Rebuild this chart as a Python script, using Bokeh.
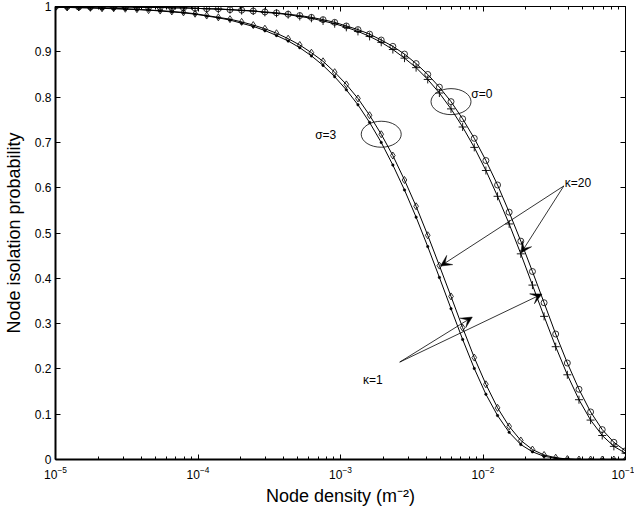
from bokeh.plotting import figure
from bokeh.models import (LinearAxis, LogAxis, Range1d, FixedTicker, LogTicker,
                          Arrow, VeeHead, Label, CustomJSTickFormatter)
from bokeh.embed import file_html
from bokeh.resources import INLINE

# ---------------- data ----------------
density = [1.000e-5, 1.207e-5, 1.456e-5, 1.758e-5, 2.121e-5, 2.560e-5, 3.089e-5, 3.728e-5,
           4.498e-5, 5.429e-5, 6.551e-5, 7.906e-5, 9.541e-5, 1.151e-4, 1.389e-4, 1.677e-4,
           2.024e-4, 2.442e-4, 2.947e-4, 3.556e-4, 4.292e-4, 5.179e-4, 6.251e-4, 7.543e-4,
           9.103e-4, 1.099e-3, 1.326e-3, 1.600e-3, 1.931e-3, 2.330e-3, 2.812e-3, 3.393e-3,
           4.095e-3, 4.942e-3, 5.964e-3, 7.197e-3, 8.685e-3, 1.048e-2, 1.265e-2, 1.526e-2,
           1.842e-2, 2.223e-2, 2.683e-2, 3.237e-2, 3.907e-2, 4.715e-2, 5.690e-2, 6.866e-2,
           8.286e-2, 1.000e-1]

# sigma = 0 (circles / plus)
p_s0_circle = [1.000, 1.000, 0.999, 0.999, 0.999, 0.999, 0.999, 0.999, 0.998, 0.998,
               0.997, 0.997, 0.996, 0.995, 0.995, 0.993, 0.992, 0.990, 0.988, 0.986,
               0.983, 0.980, 0.976, 0.971, 0.965, 0.957, 0.949, 0.939, 0.926, 0.912,
               0.895, 0.874, 0.850, 0.822, 0.790, 0.752, 0.709, 0.660, 0.606, 0.546,
               0.482, 0.415, 0.346, 0.277, 0.213, 0.155, 0.105, 0.066, 0.038, 0.019]
p_s0_plus = [1.000, 0.999, 0.999, 0.999, 0.999, 0.999, 0.999, 0.998, 0.998, 0.998,
             0.997, 0.997, 0.996, 0.995, 0.994, 0.993, 0.991, 0.990, 0.987, 0.985,
             0.982, 0.978, 0.974, 0.968, 0.962, 0.954, 0.945, 0.934, 0.921, 0.905,
             0.886, 0.865, 0.839, 0.809, 0.774, 0.734, 0.689, 0.638, 0.581, 0.520,
             0.454, 0.385, 0.316, 0.249, 0.187, 0.132, 0.087, 0.053, 0.029, 0.014]
# sigma = 3 (diamonds / dots)
p_s3_diamond = [0.998, 0.998, 0.998, 0.997, 0.996, 0.996, 0.995, 0.994, 0.992, 0.991,
                0.989, 0.987, 0.984, 0.980, 0.976, 0.972, 0.966, 0.959, 0.951, 0.941,
                0.929, 0.915, 0.898, 0.879, 0.855, 0.828, 0.797, 0.760, 0.718, 0.671,
                0.617, 0.559, 0.495, 0.428, 0.360, 0.291, 0.225, 0.166, 0.114, 0.073,
                0.042, 0.022, 0.010, 0.004, 0.001, 0.000, 0.000, 0.000, 0.000, 0.000]
p_s3_dot = [0.998, 0.998, 0.997, 0.997, 0.996, 0.995, 0.994, 0.993, 0.992, 0.990,
            0.988, 0.986, 0.983, 0.979, 0.975, 0.970, 0.963, 0.956, 0.947, 0.936,
            0.924, 0.909, 0.891, 0.870, 0.845, 0.816, 0.783, 0.744, 0.700, 0.650,
            0.595, 0.535, 0.470, 0.402, 0.333, 0.265, 0.201, 0.144, 0.097, 0.060,
            0.033, 0.017, 0.007, 0.003, 0.001, 0.000, 0.000, 0.000, 0.000, 0.000]

y_ticks = [0, 0.1, 0.2, 0.3, 0.4, 0.5, 0.6, 0.7, 0.8, 0.9, 1]

# annotation texts and anchor positions (data coordinates)
label_texts = ["σ=0", "σ=3", "κ=20", "κ=1"]
label_x = [0.00828, 0.000664, 0.0375, 0.001436]
label_y = [0.807, 0.7154, 0.6105, 0.1763]

# arrows: (x_start, y_start, x_end, y_end)
arrow_x_start = [0.03692, 0.03692, 0.002603, 0.002603]
arrow_y_start = [0.6039, 0.6039, 0.2150, 0.2150]
arrow_x_end = [0.005030, 0.01849, 0.008414, 0.02592]
arrow_y_end = [0.4271, 0.4558, 0.3144, 0.3652]

# ellipses are centred on these sample indices
ellipse_idx_s0 = 34
ellipse_idx_s3 = 28

FONT = "Liberation Sans"

p = figure(width=634, height=512, x_axis_type="log",
           x_range=Range1d(1e-5, 1e-1), y_range=Range1d(0, 1),
           output_backend="svg", toolbar_location=None,
           min_border_left=52, min_border_right=9, min_border_top=6, min_border_bottom=53)
p.xgrid.visible = False
p.ygrid.visible = False
p.outline_line_color = None
p.background_fill_color = "white"
p.border_fill_color = "white"

# bottom axis
xa = p.xaxis[0]
xa.ticker = LogTicker(num_minor_ticks=10)
xa.major_tick_in = 5
xa.major_tick_out = 0
xa.minor_tick_in = 3
xa.minor_tick_out = 0
xa.axis_line_width = 2
xa.major_label_standoff = 6
xa.major_label_text_font = FONT
xa.major_label_text_font_size = "12px"
xa.major_label_text_color = "black"
xa.axis_label = "Node density (m⁻²)"
xa.axis_label_text_font = FONT
xa.axis_label_text_font_size = "18px"
xa.axis_label_text_font_style = "normal"
xa.axis_label_standoff = 4
xa.axis_label_text_color = "black"

# left axis
ya = p.yaxis[0]
ya.ticker = FixedTicker(ticks=y_ticks)
ya.formatter = CustomJSTickFormatter(code="return String(Math.round(tick*10)/10)")
ya.major_tick_in = 5
ya.major_tick_out = 0
ya.minor_tick_in = 0
ya.minor_tick_out = 0
ya.minor_tick_line_color = None
ya.axis_line_width = 2
ya.major_label_standoff = 4
ya.major_label_text_font = FONT
ya.major_label_text_font_size = "12px"
ya.major_label_text_color = "black"
ya.axis_label = "Node isolation probability"
ya.axis_label_text_font = FONT
ya.axis_label_text_font_size = "18px"
ya.axis_label_text_font_style = "normal"
ya.axis_label_standoff = 8
ya.axis_label_text_color = "black"

# right and top axes (ticks only, empty labels)
ra = LinearAxis(ticker=FixedTicker(ticks=y_ticks), formatter=CustomJSTickFormatter(code="return ''"),
                major_tick_in=5, major_tick_out=0,
                minor_tick_line_color=None, major_label_text_font_size="1px",
                major_label_standoff=0, axis_line_width=1)
p.add_layout(ra, "right")
ta = LogAxis(ticker=LogTicker(num_minor_ticks=10), formatter=CustomJSTickFormatter(code="return ''"),
             major_tick_in=5, major_tick_out=0,
             minor_tick_in=3, minor_tick_out=0, major_label_text_font_size="1px",
             major_label_standoff=0, axis_line_width=1)
p.add_layout(ta, "above")

# curves
p.line(density, p_s0_circle, line_color="black", line_width=1)
p.scatter(density, p_s0_circle, marker="circle", size=6, fill_color=None,
          line_color="black", line_width=0.8)
p.line(density, p_s0_plus, line_color="black", line_width=1)
p.scatter(density, p_s0_plus, marker="cross", size=8, line_color="black", line_width=0.9)
p.line(density, p_s3_diamond, line_color="black", line_width=1)
p.scatter(density, p_s3_diamond, marker="diamond", size=7, fill_color=None,
          line_color="black", line_width=0.8)
p.line(density, p_s3_dot, line_color="black", line_width=1)
p.scatter(density, p_s3_dot, marker="circle", size=2.5, fill_color="black",
          line_color="black", line_width=0.5)

# ellipses
p.ellipse(x=[density[ellipse_idx_s0], density[ellipse_idx_s3]],
          y=[p_s0_circle[ellipse_idx_s0], p_s3_diamond[ellipse_idx_s3]],
          width=40, height=26, width_units="screen", height_units="screen",
          fill_color=None, line_color="black", line_width=0.8)

# arrows
for xs, ys, xe, ye in zip(arrow_x_start, arrow_y_start, arrow_x_end, arrow_y_end):
    p.add_layout(Arrow(end=VeeHead(size=11, fill_color="black", line_color="black",
                                   line_width=0.5),
                       x_start=xs, y_start=ys, x_end=xe, y_end=ye,
                       line_color="black", line_width=0.8))

# labels
for t, lx, ly in zip(label_texts, label_x, label_y):
    p.add_layout(Label(x=lx, y=ly, text=t, text_font=FONT, text_font_size="12px",
                       text_align="left", text_baseline="middle", text_color="black"))

open("out.html", "w").write(file_html(p, INLINE))
